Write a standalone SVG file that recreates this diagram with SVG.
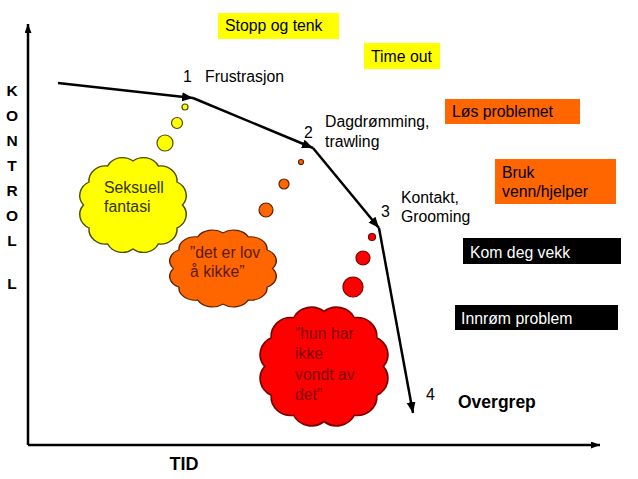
<svg xmlns="http://www.w3.org/2000/svg" xmlns:xlink="http://www.w3.org/1999/xlink" width="638" height="479" viewBox="0 0 638 479">
<style>
.t{font-family:"Liberation Sans",Arial,sans-serif;font-size:15.8px;fill:#000}
.b{font-family:"Liberation Sans",Arial,sans-serif;font-weight:bold;fill:#000}
.ln{stroke:#000;stroke-width:2.5;fill:none}
.cl{vector-effect:non-scaling-stroke;stroke-width:1.3}
</style>
<defs>
<marker id="ah" markerUnits="userSpaceOnUse" markerWidth="12" markerHeight="10" refX="11" refY="4.5" orient="auto">
<path d="M0,0 L11,4.5 L0,9 z" fill="#000"/>
</marker>
<marker id="ax" markerUnits="userSpaceOnUse" markerWidth="10" markerHeight="8" refX="9" refY="3.5" orient="auto">
<path d="M0,0 L9,3.5 L0,7 z" fill="#000"/>
</marker>
<path id="cloud" d="M50,6 A15,15 0 0 1 73,11 A15,15 0 0 1 90,27 A15,15 0 0 1 95,50 A15,15 0 0 1 90,73 A15,15 0 0 1 73,89 A15,15 0 0 1 50,94 A15,15 0 0 1 27,89 A15,15 0 0 1 10,73 A15,15 0 0 1 5,50 A15,15 0 0 1 10,27 A15,15 0 0 1 27,11 A15,15 0 0 1 50,6 z"/>
</defs>
<rect width="638" height="479" fill="#fff"/>

<g id="axes">
<line class="ln" x1="28" y1="445" x2="28" y2="24" stroke-width="2" marker-end="url(#ax)"/>
<line class="ln" x1="28" y1="445" x2="600" y2="445" stroke-width="2" marker-end="url(#ax)"/>
<g class="b" font-size="15.5" text-anchor="middle">
<text x="12" y="96">K</text>
<text x="12" y="121">O</text>
<text x="12" y="146">N</text>
<text x="12" y="171">T</text>
<text x="12" y="196">R</text>
<text x="12" y="221">O</text>
<text x="12" y="246">L</text>
<text x="12" y="289">L</text>
</g>
<text class="b" x="184" y="470" font-size="18" text-anchor="middle">TID</text>
</g>

<g id="stopp"><rect x="218" y="13" width="121" height="26" fill="#ffff00"/><text class="t" x="225" y="31">Stopp og tenk</text></g>
<g id="timeout"><rect x="364" y="43" width="76" height="26" fill="#ffff00"/><text class="t" x="371" y="62">Time out</text></g>
<g id="los"><rect x="445" y="99" width="135" height="25" fill="#ff6600"/><text class="t" x="452" y="117">Løs problemet</text></g>
<g id="bruk"><rect x="495" y="159" width="121" height="45" fill="#ff6600"/><text class="t" x="502" y="178">Bruk</text><text class="t" x="502" y="197">venn/hjelper</text></g>
<g id="kom"><rect x="463" y="238" width="158" height="26" fill="#000"/><text class="t" x="470" y="258" style="fill:#fff">Kom deg vekk</text></g>
<g id="innrom"><rect x="455" y="305" width="163" height="25" fill="#000"/><text class="t" x="461" y="324" style="fill:#fff">Innrøm problem</text></g>

<g id="connectors">
<line class="ln" x1="58" y1="83" x2="193" y2="98" marker-end="url(#ah)"/>
<line class="ln" x1="193" y1="98" x2="313" y2="148" marker-end="url(#ah)"/>
<line class="ln" x1="313" y1="148" x2="379" y2="228" marker-end="url(#ah)"/>
<line class="ln" x1="379" y1="228" x2="413" y2="413" marker-end="url(#ah)"/>
</g>

<g id="n1"><text class="t" x="183" y="82">1</text><text class="t" x="205" y="82">Frustrasjon</text></g>
<g id="n2"><text class="t" x="304" y="138">2</text><text class="t" x="325" y="127">Dagdrømming,</text><text class="t" x="325" y="147">trawling</text></g>
<g id="n3"><text class="t" x="381" y="217">3</text><text class="t" x="401" y="203">Kontakt,</text><text class="t" x="401" y="222">Grooming</text></g>
<g id="n4"><text class="t" x="426" y="400" font-size="14">4</text><text class="b" x="458" y="408" font-size="17.5">Overgrep</text></g>

<g id="cloud-yellow">
<circle cx="185" cy="107" r="3" fill="#ffff00" stroke="#4d4d00" stroke-width="1.2"/>
<circle cx="177" cy="123" r="5.5" fill="#ffff00" stroke="#4d4d00" stroke-width="1.2"/>
<circle cx="165" cy="143" r="8" fill="#ffff00" stroke="#4d4d00" stroke-width="1.2"/>
<use xlink:href="#cloud" class="cl" fill="#ffff00" stroke="#4d4d00" transform="translate(78,155) scale(1.1,1.0)"/>
<text class="t" x="104" y="193" style="fill:#333300">Seksuell</text>
<text class="t" x="104" y="212" style="fill:#333300">fantasi</text>
</g>

<g id="cloud-orange">
<circle cx="301" cy="162" r="2.5" fill="#ff6600" stroke="#5c2000" stroke-width="1.2"/>
<circle cx="284" cy="184" r="5" fill="#ff6600" stroke="#5c2000" stroke-width="1.2"/>
<circle cx="266" cy="210" r="7" fill="#ff6600" stroke="#5c2000" stroke-width="1.2"/>
<use xlink:href="#cloud" class="cl" fill="#ff6600" stroke="#5c2000" transform="translate(168,228) scale(1.1,0.81)"/>
<text class="t" x="190" y="258" style="fill:#5a1a00">”det er lov</text>
<text class="t" x="190" y="277" style="fill:#5a1a00">å kikke”</text>
</g>

<g id="cloud-red">
<circle cx="372" cy="237" r="3.5" fill="#ff0000" stroke="#7a0000" stroke-width="1.2"/>
<circle cx="363" cy="258" r="7" fill="#ff0000" stroke="#7a0000" stroke-width="1.2"/>
<circle cx="353" cy="287" r="10" fill="#ff0000" stroke="#7a0000" stroke-width="1.2"/>
<use xlink:href="#cloud" class="cl" fill="#ff0000" stroke="#7a0000" transform="translate(258,304) scale(1.32,1.25)"/>
<text class="t" x="295" y="339" style="fill:#800000">”hun har</text>
<text class="t" x="295" y="359" style="fill:#800000">ikke</text>
<text class="t" x="295" y="380" style="fill:#800000">vondt av</text>
<text class="t" x="295" y="400" style="fill:#800000">det”</text>
</g>
</svg>
